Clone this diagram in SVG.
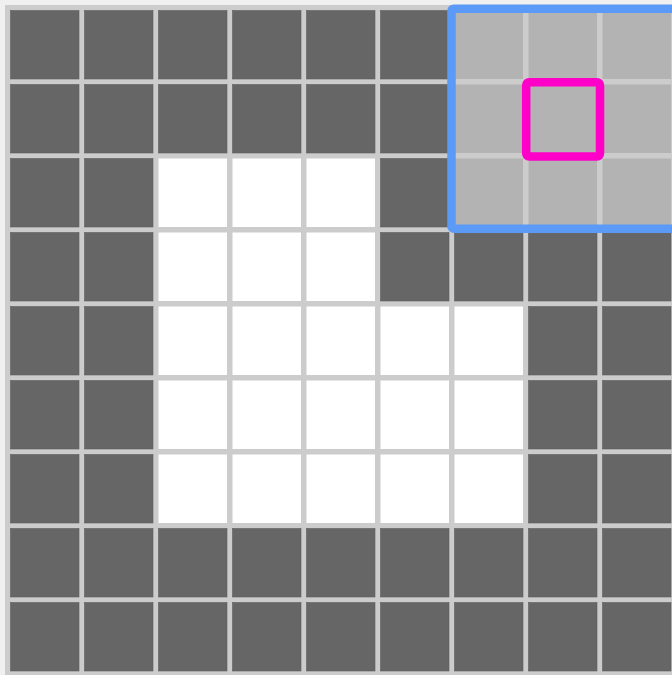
<svg xmlns="http://www.w3.org/2000/svg" width="672" height="675" viewBox="0 0 672 675">
<defs>
<style>
.d{fill:#666666;stroke:#5e5e5e;stroke-width:0.6}
.w{fill:#ffffff}
.h{fill:#b3b3b3}
</style>
<symbol id="c" viewBox="0 0 68.5 68.5"><rect width="68.5" height="68.5"/></symbol>
</defs>
<rect x="0" y="0" width="672" height="675" fill="#f0f0f0"/>
<rect x="5" y="5" width="667" height="670" fill="#cccccc"/>
<g id="row0">
<rect class="d" x="10.5" y="10.5" width="68.5" height="68.5"/><rect class="d" x="84.5" y="10.5" width="68.5" height="68.5"/><rect class="d" x="158.5" y="10.5" width="68.5" height="68.5"/><rect class="d" x="232.5" y="10.5" width="68.5" height="68.5"/><rect class="d" x="306.5" y="10.5" width="68.5" height="68.5"/><rect class="d" x="380.5" y="10.5" width="68.5" height="68.5"/><rect class="h" x="454.5" y="10.5" width="68.5" height="68.5"/><rect class="h" x="528.5" y="10.5" width="68.5" height="68.5"/><rect class="h" x="602.5" y="10.5" width="68.5" height="68.5"/>
</g>
<g id="row1">
<rect class="d" x="10.5" y="84.5" width="68.5" height="68.5"/><rect class="d" x="84.5" y="84.5" width="68.5" height="68.5"/><rect class="d" x="158.5" y="84.5" width="68.5" height="68.5"/><rect class="d" x="232.5" y="84.5" width="68.5" height="68.5"/><rect class="d" x="306.5" y="84.5" width="68.5" height="68.5"/><rect class="d" x="380.5" y="84.5" width="68.5" height="68.5"/><rect class="h" x="454.5" y="84.5" width="68.5" height="68.5"/><rect class="h" x="528.5" y="84.5" width="68.5" height="68.5"/><rect class="h" x="602.5" y="84.5" width="68.5" height="68.5"/>
</g>
<g id="row2">
<rect class="d" x="10.5" y="158.5" width="68.5" height="68.5"/><rect class="d" x="84.5" y="158.5" width="68.5" height="68.5"/><rect class="w" x="158.5" y="158.5" width="68.5" height="68.5"/><rect class="w" x="232.5" y="158.5" width="68.5" height="68.5"/><rect class="w" x="306.5" y="158.5" width="68.5" height="68.5"/><rect class="d" x="380.5" y="158.5" width="68.5" height="68.5"/><rect class="h" x="454.5" y="158.5" width="68.5" height="68.5"/><rect class="h" x="528.5" y="158.5" width="68.5" height="68.5"/><rect class="h" x="602.5" y="158.5" width="68.5" height="68.5"/>
</g>
<g id="row3">
<rect class="d" x="10.5" y="232.5" width="68.5" height="68.5"/><rect class="d" x="84.5" y="232.5" width="68.5" height="68.5"/><rect class="w" x="158.5" y="232.5" width="68.5" height="68.5"/><rect class="w" x="232.5" y="232.5" width="68.5" height="68.5"/><rect class="w" x="306.5" y="232.5" width="68.5" height="68.5"/><rect class="d" x="380.5" y="232.5" width="68.5" height="68.5"/><rect class="d" x="454.5" y="232.5" width="68.5" height="68.5"/><rect class="d" x="528.5" y="232.5" width="68.5" height="68.5"/><rect class="d" x="602.5" y="232.5" width="68.5" height="68.5"/>
</g>
<g id="row4">
<rect class="d" x="10.5" y="306.5" width="68.5" height="68.5"/><rect class="d" x="84.5" y="306.5" width="68.5" height="68.5"/><rect class="w" x="158.5" y="306.5" width="68.5" height="68.5"/><rect class="w" x="232.5" y="306.5" width="68.5" height="68.5"/><rect class="w" x="306.5" y="306.5" width="68.5" height="68.5"/><rect class="w" x="380.5" y="306.5" width="68.5" height="68.5"/><rect class="w" x="454.5" y="306.5" width="68.5" height="68.5"/><rect class="d" x="528.5" y="306.5" width="68.5" height="68.5"/><rect class="d" x="602.5" y="306.5" width="68.5" height="68.5"/>
</g>
<g id="row5">
<rect class="d" x="10.5" y="380.5" width="68.5" height="68.5"/><rect class="d" x="84.5" y="380.5" width="68.5" height="68.5"/><rect class="w" x="158.5" y="380.5" width="68.5" height="68.5"/><rect class="w" x="232.5" y="380.5" width="68.5" height="68.5"/><rect class="w" x="306.5" y="380.5" width="68.5" height="68.5"/><rect class="w" x="380.5" y="380.5" width="68.5" height="68.5"/><rect class="w" x="454.5" y="380.5" width="68.5" height="68.5"/><rect class="d" x="528.5" y="380.5" width="68.5" height="68.5"/><rect class="d" x="602.5" y="380.5" width="68.5" height="68.5"/>
</g>
<g id="row6">
<rect class="d" x="10.5" y="454.5" width="68.5" height="68.5"/><rect class="d" x="84.5" y="454.5" width="68.5" height="68.5"/><rect class="w" x="158.5" y="454.5" width="68.5" height="68.5"/><rect class="w" x="232.5" y="454.5" width="68.5" height="68.5"/><rect class="w" x="306.5" y="454.5" width="68.5" height="68.5"/><rect class="w" x="380.5" y="454.5" width="68.5" height="68.5"/><rect class="w" x="454.5" y="454.5" width="68.5" height="68.5"/><rect class="d" x="528.5" y="454.5" width="68.5" height="68.5"/><rect class="d" x="602.5" y="454.5" width="68.5" height="68.5"/>
</g>
<g id="row7">
<rect class="d" x="10.5" y="528.5" width="68.5" height="68.5"/><rect class="d" x="84.5" y="528.5" width="68.5" height="68.5"/><rect class="d" x="158.5" y="528.5" width="68.5" height="68.5"/><rect class="d" x="232.5" y="528.5" width="68.5" height="68.5"/><rect class="d" x="306.5" y="528.5" width="68.5" height="68.5"/><rect class="d" x="380.5" y="528.5" width="68.5" height="68.5"/><rect class="d" x="454.5" y="528.5" width="68.5" height="68.5"/><rect class="d" x="528.5" y="528.5" width="68.5" height="68.5"/><rect class="d" x="602.5" y="528.5" width="68.5" height="68.5"/>
</g>
<g id="row8">
<rect class="d" x="10.5" y="602.5" width="68.5" height="68.5"/><rect class="d" x="84.5" y="602.5" width="68.5" height="68.5"/><rect class="d" x="158.5" y="602.5" width="68.5" height="68.5"/><rect class="d" x="232.5" y="602.5" width="68.5" height="68.5"/><rect class="d" x="306.5" y="602.5" width="68.5" height="68.5"/><rect class="d" x="380.5" y="602.5" width="68.5" height="68.5"/><rect class="d" x="454.5" y="602.5" width="68.5" height="68.5"/><rect class="d" x="528.5" y="602.5" width="68.5" height="68.5"/><rect class="d" x="602.5" y="602.5" width="68.5" height="68.5"/>
</g>
<g id="window">
<rect x="451.5" y="8.7" width="240" height="220" fill="none" stroke="#5b9bf7" stroke-width="8.5" rx="2"/>
</g>
<g id="center">
<rect x="526.2" y="82.2" width="73.8" height="74.3" fill="none" stroke="#ff00c8" stroke-width="8.5" rx="3"/>
</g>
</svg>
